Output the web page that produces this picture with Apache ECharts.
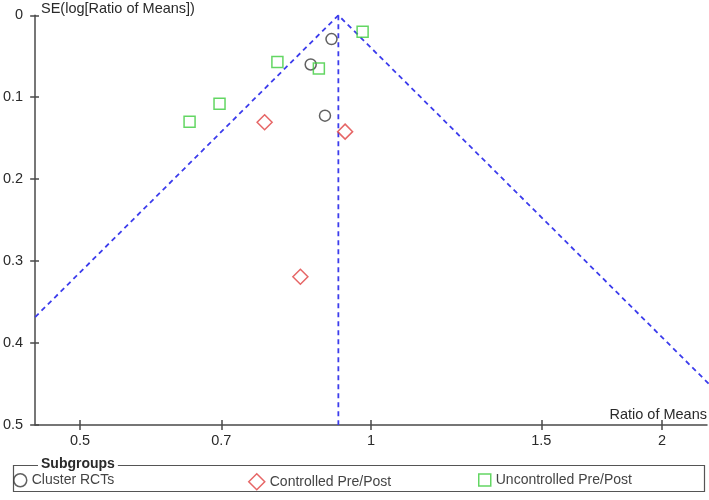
<!DOCTYPE html>
<html>
<head>
<meta charset="utf-8">
<script src="https://cdn.jsdelivr.net/npm/echarts@6/dist/echarts.min.js"></script>
<style>
html,body{margin:0;padding:0;background:#fff;}
#chart{width:709px;height:500px;}
</style>
</head>
<body>
<div id="chart"></div>
<script>
// ---- data ----
var clusterX = [0.910, 0.866, 0.896];
var clusterSE = [0.029, 0.060, 0.1225];
var controlledX = [0.776, 0.940, 0.845];
var controlledSE = [0.1306, 0.142, 0.319];
var uncontrolledX = [0.980, 0.883, 0.800, 0.697, 0.649];
var uncontrolledSE = [0.020, 0.065, 0.057, 0.108, 0.130];
var pooledEstimate = 0.925;
var funnelX = [0.347, 0.925, 2.467];
var funnelSE = [0.5, 0, 0.5];
var xTickValues = [0.5, 0.7, 1, 1.5, 2];
var xRange = [0.4493, 2.2255];
var yRange = [0, 0.5];
var seriesNames = ['Cluster RCTs', 'Controlled Pre/Post', 'Uncontrolled Pre/Post'];

function pairs(xs, ys) { return xs.map(function (x, i) { return [x, ys[i]]; }); }

var FONT = '"Liberation Sans", Arial, sans-serif';
var TXT = '#2a2a2a';
var AX = '#4a4a4a';
var BLUE = '#3c3cec';
var RED = '#e04040';
var GREEN = '#3ccc3c';
var DARK = '#3a3a3a';

var GRID = {left: 34, right: 2, top: 15.3, bottom: 75};
var gridW = 709 - GRID.left - GRID.right;
var gridH = 500 - GRID.top - GRID.bottom;

var chart = echarts.init(document.getElementById('chart'), null, {renderer: 'canvas'});
var fmt = function (v) { return String(Math.round(v * 100) / 100); };

var option = {
  animation: false,
  backgroundColor: '#fff',
  grid: {left: GRID.left, right: GRID.right, top: GRID.top, bottom: GRID.bottom, containLabel: false},
  xAxis: [{
    type: 'log', min: xRange[0], max: xRange[1], position: 'bottom',
    axisLine: {show: true, onZero: false, lineStyle: {color: AX, width: 1.5}},
    axisTick: {show: true, inside: false, length: 5, lineStyle: {color: AX, width: 1.5}, customValues: xTickValues},
    axisLabel: {show: true, margin: 8, color: TXT, fontSize: 14.5, fontFamily: FONT, customValues: xTickValues, formatter: fmt},
    splitLine: {show: false}, minorTick: {show: false}
  }, {
    type: 'log', min: xRange[0], max: xRange[1], position: 'top', offset: -gridH,
    axisLine: {show: false, onZero: false},
    axisTick: {show: true, inside: false, length: 5, lineStyle: {color: AX, width: 1.5}, customValues: xTickValues},
    axisLabel: {show: false, customValues: xTickValues},
    splitLine: {show: false}
  }],
  yAxis: [{
    type: 'value', inverse: true, min: yRange[0], max: yRange[1], interval: 0.1, position: 'left',
    axisLine: {show: true, onZero: false, lineStyle: {color: AX, width: 1.5}},
    axisTick: {show: true, inside: false, length: 5, lineStyle: {color: AX, width: 1.5}},
    axisLabel: {show: true, margin: 12, color: TXT, fontSize: 14.5, fontFamily: FONT},
    splitLine: {show: false}
  }, {
    type: 'value', inverse: true, min: yRange[0], max: yRange[1], interval: 0.1, position: 'right', offset: -gridW,
    axisLine: {show: false, onZero: false},
    axisTick: {show: true, inside: false, length: 5, lineStyle: {color: AX, width: 1.5}},
    axisLabel: {show: false},
    splitLine: {show: false}
  }],
  series: [
    {
      name: 'funnel', type: 'line', data: pairs(funnelX, funnelSE), symbol: 'none', silent: true, clip: true,
      lineStyle: {color: BLUE, width: 1.8, type: [5, 4]}, z: 1
    },
    {
      name: 'pooled', type: 'line', data: [[pooledEstimate, yRange[0]], [pooledEstimate, yRange[1]]], symbol: 'none', silent: true,
      lineStyle: {color: BLUE, width: 1.8, type: [5, 4]}, z: 1
    },
    {
      name: seriesNames[0], type: 'scatter', data: pairs(clusterX, clusterSE), symbol: 'circle', symbolSize: 11,
      itemStyle: {color: 'transparent', borderColor: DARK, borderWidth: 1.5}, z: 3
    },
    {
      name: seriesNames[1], type: 'scatter', data: pairs(controlledX, controlledSE), symbol: 'diamond', symbolSize: 15,
      itemStyle: {color: 'transparent', borderColor: RED, borderWidth: 1.5}, z: 3
    },
    {
      name: seriesNames[2], type: 'scatter', data: pairs(uncontrolledX, uncontrolledSE), symbol: 'rect', symbolSize: 11,
      itemStyle: {color: 'transparent', borderColor: GREEN, borderWidth: 1.5}, z: 3
    }
  ],
  legend: [
    {
      data: [{name: seriesNames[0], icon: 'circle', itemStyle: {color: 'transparent', borderColor: DARK, borderWidth: 1.5}}],
      left: 13, top: 473, padding: 0, itemWidth: 13, itemHeight: 13, selectedMode: false,
      textStyle: {color: '#444', fontSize: 14, fontFamily: FONT}
    },
    {
      data: [{name: seriesNames[1], icon: 'diamond', itemStyle: {color: 'transparent', borderColor: RED, borderWidth: 1.5}}],
      left: 248, top: 473, padding: 0, itemWidth: 16, itemHeight: 16, selectedMode: false,
      textStyle: {color: '#444', fontSize: 14, fontFamily: FONT}
    },
    {
      data: [{name: seriesNames[2], icon: 'rect', itemStyle: {color: 'transparent', borderColor: GREEN, borderWidth: 1.5}}],
      left: 478, top: 473, padding: 0, itemWidth: 12, itemHeight: 12, selectedMode: false,
      textStyle: {color: '#444', fontSize: 14, fontFamily: FONT}
    }
  ],
  graphic: [
    {
      type: 'text', left: 41, top: 1, silent: true,
      style: {text: 'SE(log[Ratio of Means])', fill: TXT, font: '14.5px ' + FONT}
    },
    {
      type: 'text', right: 2, top: 407, silent: true,
      style: {text: 'Ratio of Means', fill: TXT, font: '14.5px ' + FONT}
    },
    {
      type: 'rect', silent: true, z: 0,
      shape: {x: 13.5, y: 465.5, width: 691, height: 26},
      style: {fill: 'none', stroke: '#555', lineWidth: 1.2}
    },
    {
      type: 'text', left: 38, top: 457, silent: true, z: 10,
      style: {text: 'Subgroups', fill: TXT, font: 'bold 14px ' + FONT, backgroundColor: '#fff', padding: [0, 3, 0, 3]}
    }
  ]
};
chart.setOption(option);
</script>
</body>
</html>
